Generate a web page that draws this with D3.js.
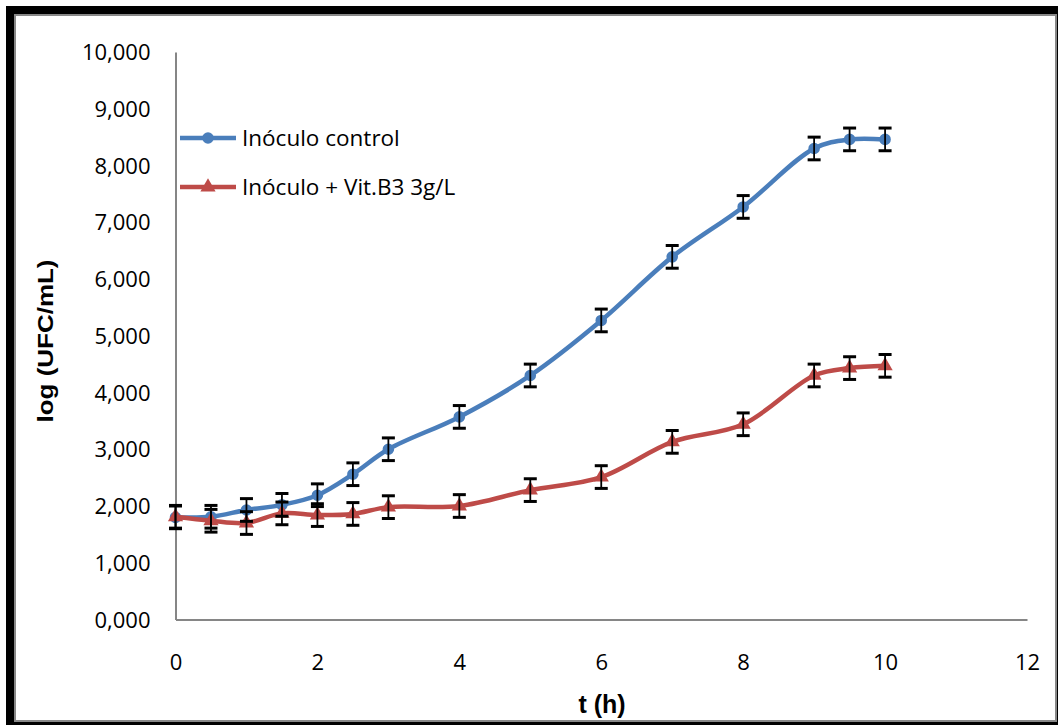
<!DOCTYPE html>
<html>
<head>
<meta charset="utf-8">
<script src="https://cdn.jsdelivr.net/npm/d3@7"></script>
<style>
  body { margin: 0; background: #fff; }
  svg { display: block; }
</style>
</head>
<body>
<svg id="chart" width="1058" height="726"></svg>
<script>
// time points (h)
const hours = [0, 0.5, 1, 1.5, 2, 2.5, 3, 4, 5, 6, 7, 8, 9, 9.5, 10];
// log (UFC/mL)
const controlValues = [1.80, 1.81, 1.93, 2.02, 2.19, 2.56, 3.00, 3.57, 4.30, 5.27, 6.39, 7.27, 8.30, 8.46, 8.46];
const vitB3Values = [1.81, 1.74, 1.70, 1.87, 1.84, 1.86, 1.98, 2.00, 2.28, 2.51, 3.13, 3.44, 4.30, 4.43, 4.47];
const errorValue = 0.2;
const seriesNames = ["Inóculo control", "Inóculo + Vit.B3 3g/L"];
const xTicks = [0, 2, 4, 6, 8, 10, 12];
const yTicks = [0, 1, 2, 3, 4, 5, 6, 7, 8, 9, 10];

const svg = d3.select("#chart");

// frame: black shadow + white chart area with gray border
svg.append("rect").attr("x", 6).attr("y", 6).attr("width", 1052).attr("height", 719).attr("fill", "#000");
svg.append("rect").attr("x", 15).attr("y", 15).attr("width", 1041).attr("height", 706)
  .attr("fill", "#fff").attr("stroke", "#888").attr("stroke-width", 2);

const x = d3.scaleLinear().domain([0, 12]).range([175.5, 1027]);
const y = d3.scaleLinear().domain([0, 10]).range([619.5, 52]);

const fmt = d => d3.format(".3f")(d).replace(".", ",");

// axes
const xAxis = svg.append("g").attr("transform", `translate(0,${y(0)})`)
  .call(d3.axisBottom(x).tickValues(xTicks).tickSize(0).tickPadding(32).tickFormat(d3.format("d")));
const yAxis = svg.append("g").attr("transform", `translate(${x(0)},0)`)
  .call(d3.axisLeft(y).tickValues(yTicks).tickSize(0).tickPadding(25).tickFormat(d => fmt(d)));

[xAxis, yAxis].forEach(a => {
  a.select(".domain").attr("stroke", "#868686").attr("stroke-width", 2);
  a.selectAll("text").attr("font-family", "'Open Sans', sans-serif").attr("font-size", 22).attr("fill", "#000");
});
yAxis.selectAll("text").attr("dy", "0.35em");
xAxis.selectAll("text").attr("dy", "0.35em").attr("y", 43);

// axis titles
svg.append("text")
  .attr("transform", "translate(53,341) rotate(-90)")
  .attr("text-anchor", "middle")
  .attr("font-family", "'Liberation Sans', Arial, sans-serif")
  .attr("font-weight", "bold").attr("font-size", 22)
  .attr("textLength", 163).attr("lengthAdjust", "spacingAndGlyphs")
  .text("log (UFC/mL)");
svg.append("text")
  .attr("x", 602).attr("y", 713)
  .attr("text-anchor", "middle")
  .attr("font-family", "'Liberation Sans', Arial, sans-serif")
  .attr("font-weight", "bold").attr("font-size", 25)
  .text("t (h)");

const series = [
  { name: seriesNames[0], values: controlValues, color: "#4A7EBB", marker: d3.symbolCircle, size: 105 },
  { name: seriesNames[1], values: vitB3Values, color: "#BE4B48", marker: d3.symbolTriangle, size: 100 }
];

const line = d3.line()
  .x(d => x(d[0])).y(d => y(d[1]))
  .curve(d3.curveCatmullRom.alpha(0.5));

series.forEach(s => {
  const pts = hours.map((h, i) => [h, s.values[i]]);
  svg.append("path").datum(pts)
    .attr("d", line).attr("fill", "none")
    .attr("stroke", s.color).attr("stroke-width", 4.5);
  svg.append("g").selectAll("path").data(pts).join("path")
    .attr("d", d3.symbol().type(s.marker).size(s.size))
    .attr("transform", d => `translate(${x(d[0])},${y(d[1])})`)
    .attr("fill", s.color);
});

// error bars
series.forEach(s => {
  const g = svg.append("g").attr("stroke", "#000");
  hours.forEach((h, i) => {
    const cx = x(h), top = y(s.values[i] + errorValue), bot = y(s.values[i] - errorValue);
    g.append("line").attr("x1", cx).attr("x2", cx).attr("y1", top).attr("y2", bot).attr("stroke-width", 1.8);
    g.append("line").attr("x1", cx - 6.5).attr("x2", cx + 6.5).attr("y1", top).attr("y2", top).attr("stroke-width", 3);
    g.append("line").attr("x1", cx - 6.5).attr("x2", cx + 6.5).attr("y1", bot).attr("y2", bot).attr("stroke-width", 3);
  });
});

// legend
const legend = svg.append("g");
series.forEach((s, i) => {
  const ly = 138 + i * 49;
  legend.append("line").attr("x1", 180).attr("x2", 236).attr("y1", ly).attr("y2", ly)
    .attr("stroke", s.color).attr("stroke-width", 4.5);
  legend.append("path").attr("d", d3.symbol().type(s.marker).size(s.size)())
    .attr("transform", `translate(208,${ly})`).attr("fill", s.color);
  legend.append("text").attr("x", 242).attr("y", ly).attr("dy", "0.35em")
    .attr("font-family", "'Open Sans', sans-serif").attr("font-size", 22.5)
    .text(s.name);
});
</script>
</body>
</html>
